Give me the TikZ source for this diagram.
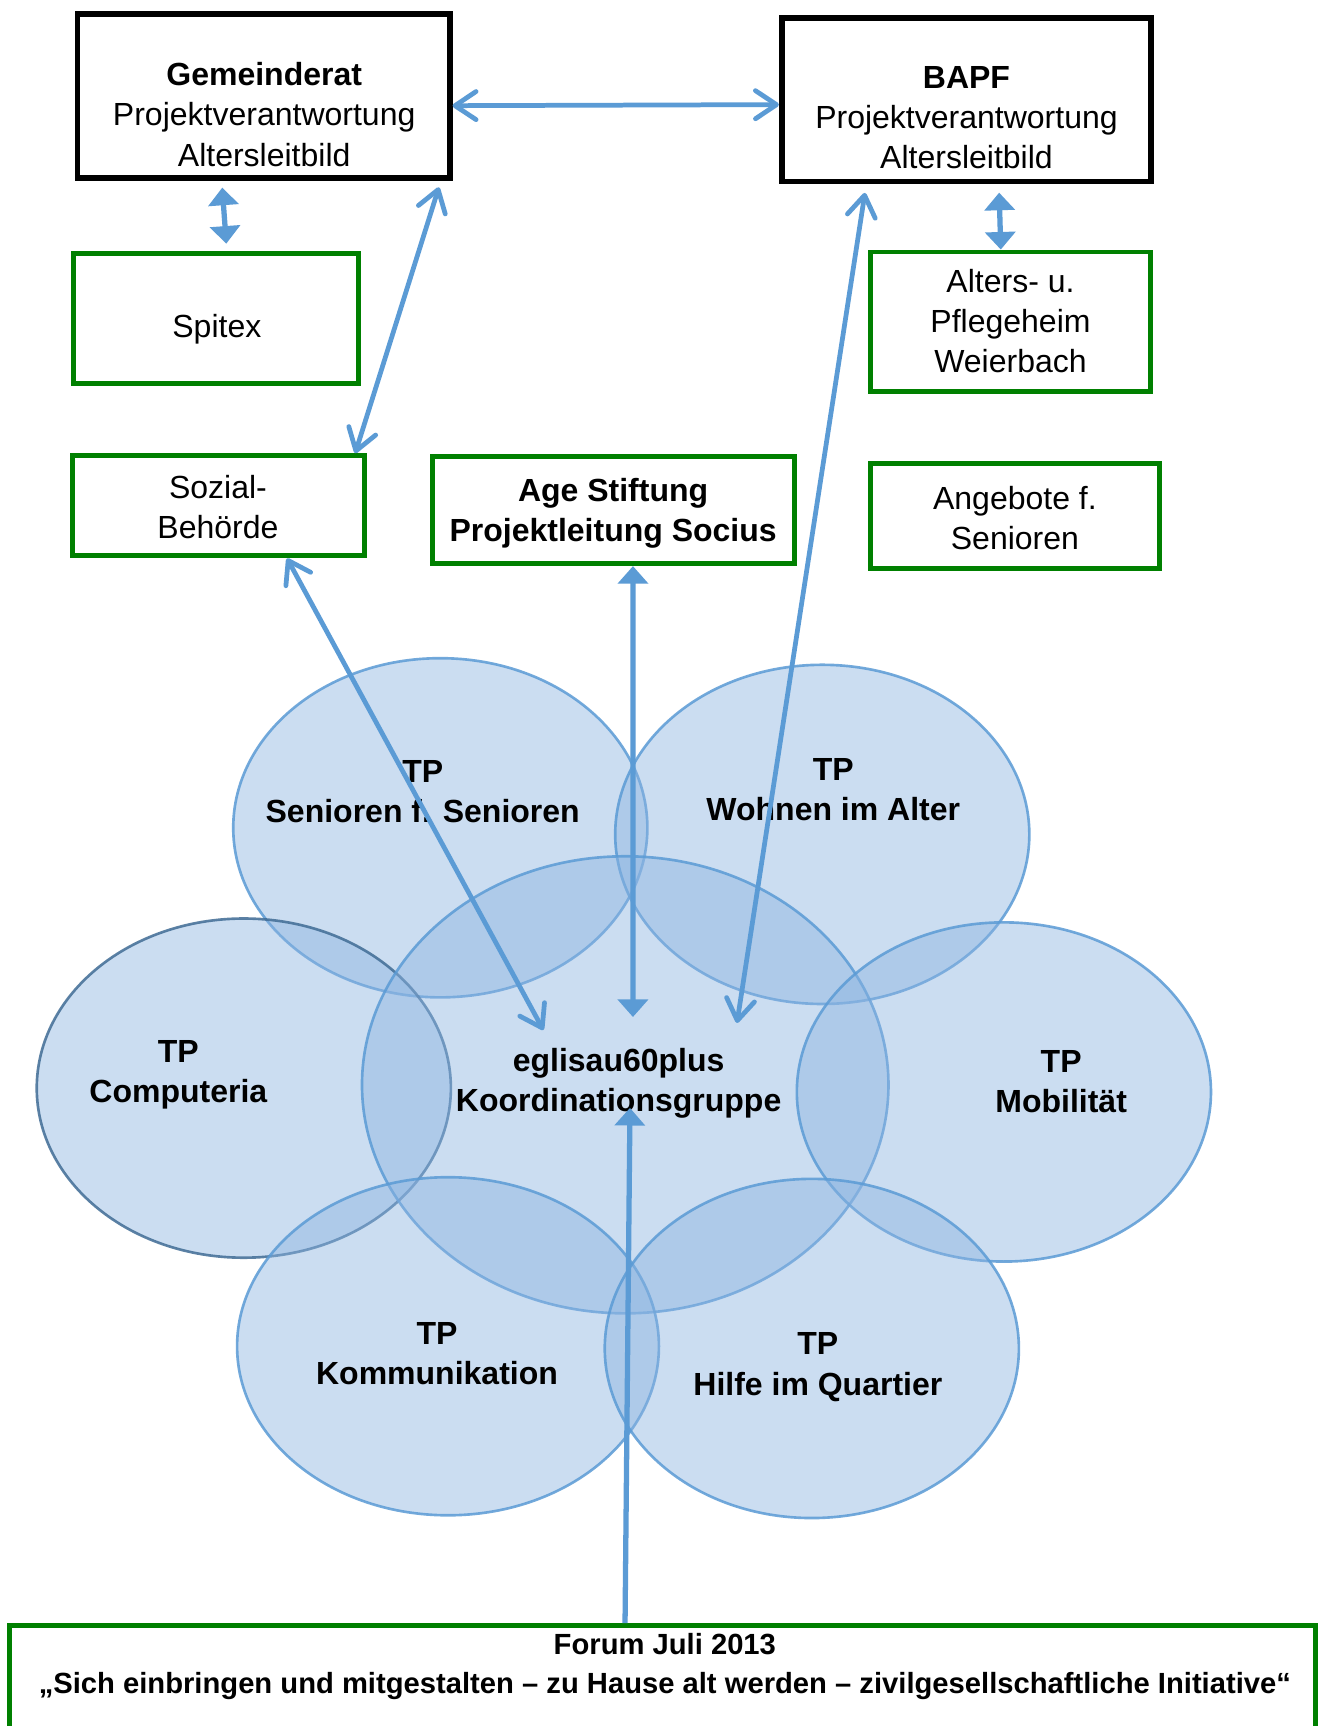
\documentclass[tikz,border=0pt]{standalone}
\usepackage{fontspec}
\setmainfont{Liberation Sans}
\usetikzlibrary{arrows.meta,shapes.geometric}

\definecolor{arrowblue}{RGB}{91,155,213}
\definecolor{boxgreen}{RGB}{0,128,0}
\definecolor{tpfill}{RGB}{140,180,225}
\definecolor{tpline}{RGB}{91,155,213}

\begin{document}
\begin{tikzpicture}[x=0.011008cm,y=-0.011008cm,
    font=\fontsize{9.1}{11.4}\selectfont,
    every node/.style={align=center,inner sep=0pt},
    barb/.tip={Straight Barb[round,length=6pt,width=8pt]},
    tri/.tip={Triangle[length=5pt,width=8.5pt]},
    blackbox/.style={draw,line width=1.6pt},
    greenbox/.style={draw=boxgreen,line width=1.4pt},
    tp/.style={ellipse,draw=tpline,draw opacity=0.85,fill=tpfill,fill opacity=0.45,
      line width=0.75pt,minimum width=4.139cm,minimum height=3.39cm},
    tptext/.style={font=\fontsize{9.1}{11.4}\selectfont\bfseries},
    link/.style={draw=arrowblue,line width=1.35pt,barb-barb},
    fatlink/.style={draw=arrowblue,line width=1.5pt,tri-tri}]
  \useasboundingbox (0,0) rectangle (1200,1568);
  \clip (0,0) rectangle (1200,1568);
  \fill[white] (0,0) rectangle (1200,1568);

  % Kaesten oben
  \node[blackbox,minimum width=3.721cm,minimum height=1.64cm] (gem) at (239.5,87) {};
  \node[blackbox,minimum width=3.693cm,minimum height=1.635cm] (bapf) at (878,90.5) {};
  \node[greenbox,minimum width=2.851cm,minimum height=1.299cm] (spitex) at (196.5,289) {};
  \node[greenbox,minimum width=2.796cm,minimum height=1.398cm] (alters) at (918,292.5) {};
  \node[greenbox,minimum width=2.917cm,minimum height=1.002cm] (sozial) at (198.5,459.5) {};
  \node[greenbox,minimum width=3.622cm,minimum height=1.068cm] (age) at (557.5,463.5) {};
  \node[greenbox,minimum width=2.884cm,minimum height=1.046cm] (angebote) at (922,468.5) {};
  \node[greenbox,minimum width=13.055cm,minimum height=1.6cm,anchor=north] (forum) at (602,1474.5) {};

  \node (gemtxt) at (240,104) {\textbf{Gemeinderat}\\Projektverantwortung\\Altersleitbild};
  \node (bapftxt) at (878,107) {\textbf{BAPF}\\Projektverantwortung\\Altersleitbild};
  \node (spitextxt) at (197,299) {Spitex};
  \node (alterstxt) at (918,292) {Alters- u.\\Pflegeheim\\Weierbach};
  \node (sozialtxt) at (198,461) {Sozial-\\Behörde};
  \node[tptext] (agetxt) at (557,466.5) {Age Stiftung\\Projektleitung Socius};
  \node (angebotetxt) at (922,471) {Angebote f.\\Senioren};
  \node[font=\fontsize{8.3}{11}\selectfont\bfseries] (forumtxt) at (604,1514)
    {Forum Juli 2013\\„Sich einbringen und mitgestalten – zu Hause alt werden – zivilgesellschaftliche Initiative“};

  % Teilprojekte
  \node[tp] (sen) at (400,752) {};
  \node[tp] (wohn) at (747,758) {};
  \node[tp,draw=tpline!70!black] (comp) at (221.5,988.5) {};
  \node[tp,minimum width=5.262cm,minimum height=4.568cm] (koord) at (568,985.5) {};
  \node[tp] (mob) at (912,992) {};
  \node[tp,minimum width=4.216cm,minimum height=3.379cm] (komm) at (407,1223) {};
  \node[tp] (hilfe) at (737.5,1225) {};

  \node[tptext] (sentxt) at (384,719.5) {TP\\Senioren f. Senioren};
  \node[tptext] (wohntxt) at (757,717) {TP\\Wohnen im Alter};
  \node[tptext] (comptxt) at (162,976) {TP\\Computeria};
  \node[tptext] (koordtxt) at (562,984) {eglisau60plus\\Koordinationsgruppe};
  \node[tptext] (mobtxt) at (964,983) {TP\\Mobilität};
  \node[tptext] (kommtxt) at (397,1230) {TP\\Kommunikation};
  \node[tptext] (hilfetxt) at (743,1242) {TP\\Hilfe im Quartier};

  % Pfeile
  \coordinate (insoz) at (493.6,935.7);
  \coordinate (inbapf) at (669.5,929.3);
  \coordinate (inage) at (575,923.9);
  \coordinate (inforum) at (572.3,1006.5);

  \draw[link] ([yshift=-0.099cm]gem.east) -- ([yshift=-0.05cm]bapf.west);
  \draw[fatlink,shorten <=2pt,shorten >=2pt] ([xshift=-0.419cm]gem.south) -- ([xshift=0.105cm]spitex.north);
  \draw[link,shorten <=2pt] ([xshift=-0.116cm]gem.south east) -- ([xshift=-0.117cm]sozial.north east);
  \draw[fatlink,shorten <=2.4pt] ([xshift=0.324cm]bapf.south) -- ([xshift=-0.097cm]alters.north);
  \draw[link,shorten <=2.5pt] ([xshift=0.873cm]bapf.south west) -- (inbapf);
  \draw[link] ([xshift=0.685cm]sozial.south) -- (insoz);
  \draw[fatlink] ([xshift=0.193cm]age.south) -- (inage);
  \draw[fatlink,-tri] ([xshift=-0.376cm]forum.north) -- (inforum);
\end{tikzpicture}
\end{document}
